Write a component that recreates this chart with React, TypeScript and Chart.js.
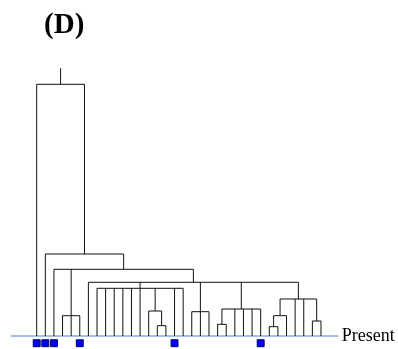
import React, { useEffect, useRef } from 'react';
import { Chart, registerables } from 'chart.js';

Chart.register(...registerables);

// ---- data ----
const TITLE = '(D)';
const PRESENT_LABEL = 'Present';
const LEAF_COUNT = 34; // terminal taxa t0..t33, left to right
const sampledLeaves = [0, 1, 2, 5, 16, 26]; // taxa marked with blue squares
const nodeNames = ['n1', 'n2', 'nComb', 'nBox3', 'nBox18', 'n324', 'n309', 'n327', 'n316', 'n321', 'n299', 'n282', 'n269', 'n254', 'nRoot'];
const nodeAges = [10.3, 25, 47.7, 20.3, 24.3, 11.7, 27, 9.3, 20.3, 15, 37, 53.7, 66.7, 82, 251.7];
const nodeKids: string[][] = [
  ['t14', 't15'],
  ['t13', 'n1'],
  ['t7', 't8', 't9', 't10', 't11', 't12', 'n2', 't16', 't17'],
  ['t3', 't4', 't5'],
  ['t18', 't19', 't20'],
  ['t21', 't22'],
  ['n324', 't23', 't24', 't25', 't26'],
  ['t27', 't28'],
  ['n327', 't29'],
  ['t32', 't33'],
  ['n316', 't30', 't31', 'n321'],
  ['t6', 'nComb', 'nBox18', 'n309', 'n299'],
  ['t2', 'nBox3', 'n282'],
  ['t1', 'n269'],
  ['t0', 'n254'],
];
const rootStemAge = 267.7;
const baselineRange = [-3, 35];

// ---- layout ----
const W = 398;
const H = 349;

type P = { x: number; y: number };

function buildTree() {
  const cache: Record<string, P> = {};
  const pos = (name: string): P => {
    if (cache[name]) return cache[name];
    if (name.startsWith('t')) {
      const p = { x: Number(name.slice(1)), y: 0 };
      cache[name] = p;
      return p;
    }
    const i = nodeNames.indexOf(name);
    const kids = nodeKids[i].map(pos);
    const xs = kids.map((k) => k.x);
    const p = { x: (Math.min(...xs) + Math.max(...xs)) / 2, y: nodeAges[i] };
    cache[name] = p;
    return p;
  };
  const pts: P[] = [];
  const gap = { x: NaN, y: NaN };
  nodeNames.forEach((name, i) => {
    const me = pos(name);
    const kids = nodeKids[i].map(pos);
    const xs = kids.map((k) => k.x);
    pts.push({ x: Math.min(...xs), y: me.y }, { x: Math.max(...xs), y: me.y }, gap);
    kids.forEach((k) => {
      pts.push({ x: k.x, y: k.y }, { x: k.x, y: me.y }, gap);
    });
  });
  const root = pos('nRoot');
  pts.push({ x: root.x, y: root.y }, { x: root.x, y: rootStemAge });
  return pts;
}

const textPlugin = {
  id: 'textLabels',
  afterDraw(chart: any) {
    const { ctx, chartArea, scales } = chart;
    ctx.save();
    ctx.fillStyle = '#000';
    ctx.textBaseline = 'alphabetic';
    ctx.textAlign = 'center';
    ctx.font = 'bold 29px "Liberation Serif", "Times New Roman", serif';
    ctx.fillText(TITLE, chartArea.left + 64.2, 33);
    ctx.textAlign = 'left';
    ctx.font = '18px "Liberation Serif", "Times New Roman", serif';
    const px = scales.x.getPixelForValue(baselineRange[1]) + 3.5;
    const py = scales.y.getPixelForValue(0) + 4.7;
    ctx.fillText(PRESENT_LABEL, px, py);
    ctx.restore();
  },
};

export default function App() {
  const ref = useRef<HTMLCanvasElement>(null);
  useEffect(() => {
    if (!ref.current) return;
    const treePts = buildTree();
    const chart = new Chart(ref.current, {
      type: 'scatter',
      data: {
        datasets: [
          {
            label: 'tree',
            data: treePts,
            showLine: true,
            spanGaps: false,
            borderColor: '#111',
            borderWidth: 1,
            pointRadius: 0,
            pointHoverRadius: 0,
            order: 1,
          },
          {
            label: 'present',
            data: [
              { x: baselineRange[0], y: 0 },
              { x: baselineRange[1], y: 0 },
            ],
            showLine: true,
            borderColor: '#4a7bd0',
            borderWidth: 1,
            pointRadius: 0,
            pointHoverRadius: 0,
            order: 3,
          },
          {
            label: 'sampled',
            data: sampledLeaves.map((i) => ({ x: i, y: -7.2 })),
            pointStyle: 'rect',
            pointRadius: 4.9,
            pointHoverRadius: 4.9,
            backgroundColor: '#0000ff',
            borderColor: '#00006a',
            borderWidth: 1,
            order: 2,
          },
        ],
      },
      options: {
        responsive: false,
        animation: false,
        devicePixelRatio: 1,
        layout: { padding: 0, autoPadding: false },
        plugins: { legend: { display: false }, tooltip: { enabled: false }, title: { display: false } },
        scales: {
          x: { type: 'linear', display: false, min: -4.26, max: 41.94 },
          y: { type: 'linear', display: false, min: -13, max: 336 },
        },
      },
      plugins: [textPlugin],
    });
    return () => chart.destroy();
  }, []);
  return (
    <div style={{ position: 'fixed', left: 0, top: 0, width: W, height: H, background: '#fff', overflow: 'hidden' }}>
      <canvas ref={ref} width={W} height={H} style={{ display: 'block' }} />
    </div>
  );
}
